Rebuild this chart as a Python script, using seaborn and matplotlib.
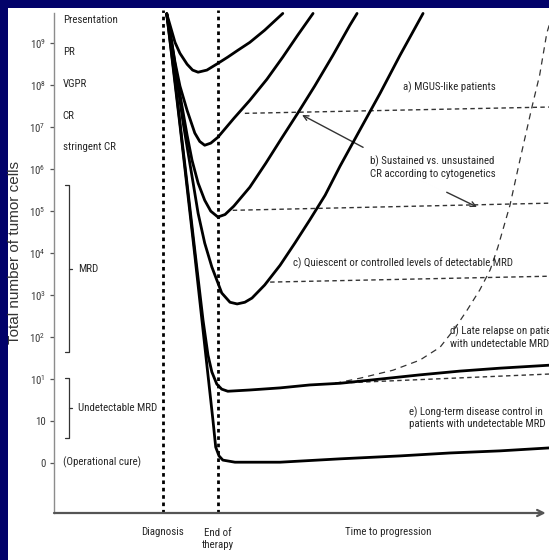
import matplotlib
matplotlib.use("Agg")
import matplotlib.pyplot as plt
from matplotlib import font_manager
from matplotlib.patches import Rectangle
import pandas as pd
import seaborn as sns

# Time axis: 0 = diagnosis, 1 = end of therapy (arbitrary units).
# Level axis: 0 = operational cure, 1 = 10 cells, n = 10^(n-1) cells.

# partial response
pr_t = [0.07, 0.13, 0.22, 0.31, 0.44, 0.54, 0.64, 0.80, 1.00, 1.18, 1.36, 1.58, 1.85, 2.18]
pr_lvl = [10.70, 10.43, 10.02, 9.76, 9.50, 9.36, 9.31, 9.36, 9.52, 9.67, 9.83, 10.02,
          10.31, 10.71]

# very good partial response
vgpr_t = [0.07, 0.13, 0.22, 0.31, 0.44, 0.58, 0.67, 0.76, 0.87, 1.00, 1.29, 1.58, 1.89,
          2.18, 2.45, 2.73]
vgpr_lvl = [10.70, 10.26, 9.55, 8.98, 8.40, 7.86, 7.66, 7.57, 7.62, 7.76, 8.21, 8.64, 9.14,
            9.67, 10.19, 10.71]

# complete response
cr_t = [0.07, 0.16, 0.25, 0.35, 0.44, 0.53, 0.64, 0.76, 0.87, 1.00, 1.13, 1.29, 1.58,
        1.87, 2.16, 2.45, 2.76, 3.09, 3.40, 3.53]
cr_lvl = [10.70, 10.02, 9.24, 8.48, 7.81, 7.21, 6.67, 6.26, 6.00, 5.86, 5.92, 6.12, 6.57,
          7.14, 7.74, 8.33, 8.98, 9.71, 10.43, 10.71]

# detectable MRD
mrd_t = [0.07, 0.16, 0.27, 0.36, 0.45, 0.55, 0.64, 0.76, 0.89, 1.07, 1.22, 1.35,
         1.49, 1.62, 1.85, 2.13, 2.40, 2.67, 2.95, 3.22, 3.58, 3.95, 4.31, 4.73]
mrd_lvl = [10.70, 9.95, 9.00, 8.17, 7.45, 6.67, 5.95, 5.24, 4.67, 4.05, 3.83, 3.79,
           3.83, 3.93, 4.24, 4.71, 5.24, 5.79, 6.38, 7.07, 7.93, 8.81, 9.71, 10.71]

# undetectable MRD
und_t = [0.07, 0.22, 0.40, 0.58, 0.73, 0.82, 0.89, 0.98, 1.07, 1.18, 1.58, 2.13,
         2.67, 3.22, 3.95, 4.67, 5.40, 6.13, 7.02]
und_lvl = [10.70, 9.12, 7.10, 5.07, 3.40, 2.57, 2.17, 1.88, 1.76, 1.71, 1.74, 1.79,
           1.86, 1.90, 2.00, 2.10, 2.19, 2.26, 2.33]

# operational cure
cure_t = [0.07, 0.31, 0.58, 0.80, 0.91, 0.96, 1.02, 1.09, 1.31, 2.13, 3.22, 4.31,
          5.22, 6.13, 7.02]
cure_lvl = [10.70, 8.05, 4.95, 2.33, 1.02, 0.38, 0.17, 0.07, 0.02, 0.02, 0.10, 0.17,
            0.24, 0.29, 0.36]

# late relapse after undetectable MRD
relapse_t = [3.13, 3.58, 4.18, 4.67, 5.04, 5.31, 5.53, 5.76, 5.95, 6.09, 6.31, 6.49,
             6.71, 6.85, 6.98, 7.04]
relapse_lvl = [1.90, 2.02, 2.21, 2.45, 2.76, 3.21, 3.64, 4.12, 4.60, 5.14, 6.14, 7.21,
               8.48, 9.24, 10.24, 10.50]

# plateau (dashed) levels: start / end
plateau_a_t, plateau_a_lvl = [1.49, 7.02], [8.33, 8.48]
plateau_b_t, plateau_b_lvl = [1.27, 7.02], [6.02, 6.19]
plateau_c_t, plateau_c_lvl = [1.95, 7.02], [4.31, 4.45]
plateau_d_t, plateau_d_lvl = [3.13, 7.02], [1.90, 2.12]

level_ticks = list(range(11))
level_labels = ["0", "10"] + [f"$10^{{{k}}}$" for k in range(1, 10)]

response_labels = ["Presentation", "PR", "VGPR", "CR", "stringent CR"]

# ---------------------------------------------------------------- fonts
sns.set_theme(style="white")
names = {f.name for f in font_manager.fontManager.ttflist}
narrow = "Liberation Sans"
for cand in ("Liberation Sans Narrow", "Arial Narrow", "Roboto Condensed"):
    if cand in names:
        narrow = cand
        break
fs = 7.8 if narrow != "Liberation Sans" else 7.0

plt.rcParams["font.family"] = [narrow, "DejaVu Sans"]
plt.rcParams["mathtext.fontset"] = "custom"
plt.rcParams["mathtext.rm"] = narrow
plt.rcParams["mathtext.it"] = narrow
plt.rcParams["mathtext.bf"] = narrow

TXT = "#262626"
NAVY = "#02026a"

fig = plt.figure(figsize=(5.49, 5.60), dpi=100, facecolor=NAVY)
panel = Rectangle((7.5 / 549, 0), 1, 1 - 7.5 / 560, transform=fig.transFigure,
                  facecolor="white", edgecolor="none", zorder=-5)
fig.add_artist(panel)

ax = fig.add_axes([54 / 549, 47 / 560, 495 / 549, 500 / 560])
ax.set_facecolor("none")
ax.set_xlim(-1.98, 7.02)
ax.set_ylim(-1.19, 10.72)

# ---------------------------------------------------------------- curves
curves = [(pr_t, pr_lvl), (vgpr_t, vgpr_lvl), (cr_t, cr_lvl), (mrd_t, mrd_lvl),
          (und_t, und_lvl), (cure_t, cure_lvl)]
for t, lvl in curves:
    sns.lineplot(x=t, y=lvl, ax=ax, color="black", lw=2.0, sort=False,
                 estimator=None, solid_capstyle="round", solid_joinstyle="round",
                 clip_on=False, zorder=4)

for t, lvl in [(plateau_a_t, plateau_a_lvl), (plateau_b_t, plateau_b_lvl),
               (plateau_c_t, plateau_c_lvl), (plateau_d_t, plateau_d_lvl)]:
    ax.plot(t, lvl, color="#333333", lw=1.0, linestyle=(0, (3.2, 2.4)),
            clip_on=False, zorder=3)

sns.lineplot(x=relapse_t, y=relapse_lvl, ax=ax, color="#333333", lw=0.9,
             linestyle=(0, (5, 4)), sort=False, estimator=None, clip_on=False, zorder=3)

# diagnosis / end of therapy markers
for x0 in (0, 1):
    ax.axvline(x0, ymin=0, ymax=1.006, color="black", lw=2.0,
               linestyle=(0, (1.3, 1.35)), dash_capstyle="butt", clip_on=False, zorder=2)

# ---------------------------------------------------------------- axes
for s in ("top", "right", "bottom"):
    ax.spines[s].set_visible(False)
ax.spines["left"].set_color("#8c8c8c")
ax.spines["left"].set_linewidth(1.0)
ax.set_xticks([])
ax.set_yticks(level_ticks)
ax.set_yticklabels(level_labels)
ax.tick_params(axis="y", left=True, length=3, width=0.9, color="#555555", pad=3,
               labelsize=fs, labelcolor="#3a3a3a")

ax.annotate("", xy=(6.96, -1.19), xytext=(-1.98, -1.19),
            arrowprops=dict(arrowstyle="->", lw=1.6, color="#555555",
                            shrinkA=0, shrinkB=0, mutation_scale=11),
            annotation_clip=False, zorder=5)

fig.text(15.5 / 549, 1 - 252 / 560, "Total number of tumor cells", rotation=90,
         ha="center", va="center", fontsize=11, color="#333333",
         family=["Liberation Sans", "DejaVu Sans"])

# ---------------------------------------------------------------- labels
for lbl, y in zip(response_labels, [10.55, 9.79, 9.02, 8.26, 7.52]):
    ax.text(-1.82, y, lbl, ha="left", va="center", fontsize=fs, color=TXT)
ax.text(-1.82, 0.02, "(Operational cure)", ha="left", va="center", fontsize=fs, color=TXT)


def brace(y_top, y_bot, label):
    xb, xl, xr = -1.71, -1.78, -1.65
    ym = (y_top + y_bot) / 2
    ax.plot([xl, xb, xb, xl], [y_top, y_top, y_bot, y_bot], color="#333333", lw=0.9)
    ax.plot([xb, xr], [ym, ym], color="#333333", lw=0.9)
    ax.text(-1.55, ym, label, ha="left", va="center", fontsize=fs, color=TXT)


brace(6.62, 2.64, "MRD")
brace(2.02, 0.60, "Undetectable MRD")

ax.text(0, -1.64, "Diagnosis", ha="center", va="center", fontsize=fs, color=TXT, clip_on=False)
ax.text(1, -1.82, "End of\ntherapy", ha="center", va="center", fontsize=fs, color=TXT,
        linespacing=1.25, clip_on=False)
ax.text(4.09, -1.64, "Time to progression", ha="center", va="center", fontsize=fs,
        color=TXT, clip_on=False)

ax.text(4.36, 8.95, "a) MGUS-like patients", ha="left", va="center", fontsize=fs, color=TXT)
ax.text(3.76, 7.05, "b) Sustained vs. unsustained\nCR according to cytogenetics",
        ha="left", va="center", fontsize=fs, color=TXT, linespacing=1.2)
ax.text(2.36, 4.76, "c) Quiescent or controlled levels of detectable MRD", ha="left",
        va="center", fontsize=fs, color=TXT)
ax.text(5.22, 3.00, "d) Late relapse on patients\nwith undetectable MRD", ha="left",
        va="center", fontsize=fs, color=TXT, linespacing=1.2, clip_on=False)
ax.text(4.47, 1.08, "e) Long-term disease control in\npatients with undetectable MRD",
        ha="left", va="center", fontsize=fs, color=TXT, linespacing=1.2)

arrow_kw = dict(arrowstyle="->", lw=1.0, color="#333333", shrinkA=0, shrinkB=0,
                mutation_scale=9)
ax.annotate("", xy=(2.53, 8.29), xytext=(3.64, 7.52), arrowprops=arrow_kw)
ax.annotate("", xy=(5.71, 6.10), xytext=(5.16, 6.45), arrowprops=arrow_kw)

fig.savefig("out.png", dpi=100, facecolor=NAVY)
